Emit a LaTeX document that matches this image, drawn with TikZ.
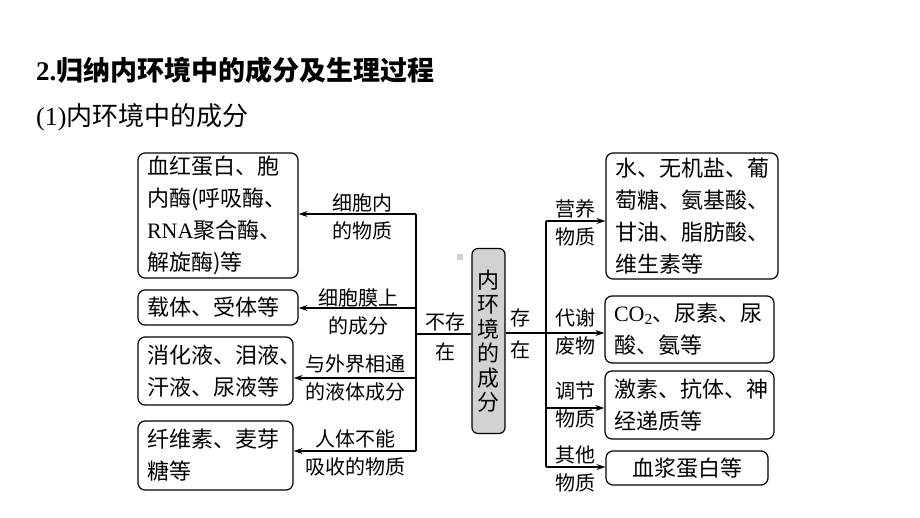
\documentclass[tikz,border=0pt]{standalone}
\usepackage{fontspec}
\setmainfont{Liberation Serif}
\newfontfamily\cjk{Noto Sans CJK SC}
\usetikzlibrary{arrows.meta}
\begin{document}
\begin{tikzpicture}[x=1pt,y=-1pt,
  box/.style={draw, rounded corners=7pt, line width=1.2pt, inner xsep=9pt, inner ysep=0pt,
    align=left, font=\cjk\fontsize{22}{32}\selectfont},
  lbl/.style={align=center, inner sep=0pt, font=\cjk\fontsize{20}{28}\selectfont},
  ln/.style={line width=1.2pt},
  arr/.style={line width=1.2pt, -{Stealth[length=9pt,width=6pt]}}]
\useasboundingbox (0,0) rectangle (920,518);
% titles
\node[anchor=west, inner sep=0pt, font=\cjk\fontsize{27}{30}\selectfont\bfseries] (title) at (36,70) {{\rmfamily\bfseries 2.}归纳内环境中的成分及生理过程};
\node[anchor=west, inner sep=0pt, font=\cjk\fontsize{26}{30}\selectfont] (sub) at (36,117) {{\rmfamily (1)}内环境中的成分};
% left boxes
\node[box, text width=142pt, minimum height=125pt] (L1) at (218,215.5) {血红蛋白、胞\\内酶(呼吸酶、\\{\rmfamily RNA}聚合酶、\\解旋酶)等};
\node[box, text width=142pt, minimum height=35pt] (L2) at (218,307.5) {载体、受体等};
\node[box, text width=137pt, minimum height=68pt] (L3) at (215.5,371) {消化液、泪液、\\汗液、尿液等};
\node[box, text width=137pt, minimum height=69pt] (L4) at (215.5,455.5) {纤维素、麦芽\\糖等};
% center
\node[draw, fill=gray!35, rounded corners=6pt, line width=1.2pt, minimum width=33pt, minimum height=185pt,
  inner sep=0pt, align=center, font=\cjk\fontsize{22}{24.5}\selectfont] (C) at (488.5,341) {内\\环\\境\\的\\成\\分};
\fill[gray!35] (457,254) rectangle (463,260);
% right boxes
\node[box, text width=154pt, minimum height=126pt] (R1) at (692,216) {水、无机盐、葡\\萄糖、氨基酸、\\甘油、脂肪酸、\\维生素等};
\node[box, text width=151pt, minimum height=67pt] (R2) at (689.5,329.5) {{\rmfamily CO\textsubscript{2}}、尿素、尿\\酸、氨等};
\node[box, text width=151pt, minimum height=68pt] (R3) at (689.5,405) {激素、抗体、神\\经递质等};
\node[box, align=center, text width=144pt, minimum height=34pt] (R4) at (687,468) {血浆蛋白等};
% left tree
\coordinate (lj0) at (416,334);
\coordinate (lj1) at (416,214);
\coordinate (lj2) at (416,308);
\coordinate (lj3) at (416,378);
\coordinate (lj4) at (416,451);
\draw[ln] (lj1) -- (lj4);
\draw[ln] (C.west |- lj0) -- (lj0);
\draw[arr] (lj1) -- (lj1 -| L1.east);
\draw[arr] (lj2) -- (lj2 -| L2.east);
\draw[arr] (lj3) -- (lj3 -| L3.east);
\draw[arr] (lj4) -- (lj4 -| L4.east);
\node[lbl] (t1) at (362,217) {细胞内\\的物质};
\node[lbl] (t2) at (358,311.5) {细胞膜上\\的成分};
\node[lbl] (t3) at (355,378) {与外界相通\\的液体成分};
\node[lbl] (t4) at (355,452.5) {人体不能\\吸收的物质};
\node[lbl, font=\cjk\fontsize{20}{30}\selectfont] (t0) at (445.5,337) {不存\\在};
% right tree
\coordinate (rj0) at (546,333);
\coordinate (rj1) at (546,221);
\coordinate (rj2) at (546,333);
\coordinate (rj3) at (546,408);
\coordinate (rj4) at (546,467);
\draw[ln] (rj1) -- (rj4);
\draw[ln] (C.east |- rj0) -- (rj0);
\draw[arr] (rj1) -- (rj1 -| R1.west);
\draw[arr] (rj2) -- (rj2 -| R2.west);
\draw[arr] (rj3) -- (rj3 -| R3.west);
\draw[arr] (rj4) -- (rj4 -| R4.west);
\node[lbl] (s1) at (575,222.5) {营养\\物质};
\node[lbl] (s2) at (575,331.5) {代谢\\废物};
\node[lbl] (s3) at (575,405) {调节\\物质};
\node[lbl] (s4) at (575,468.5) {其他\\物质};
\node[lbl, font=\cjk\fontsize{20}{32}\selectfont] (s0) at (520,334) {存\\在};
\end{tikzpicture}
\end{document}
